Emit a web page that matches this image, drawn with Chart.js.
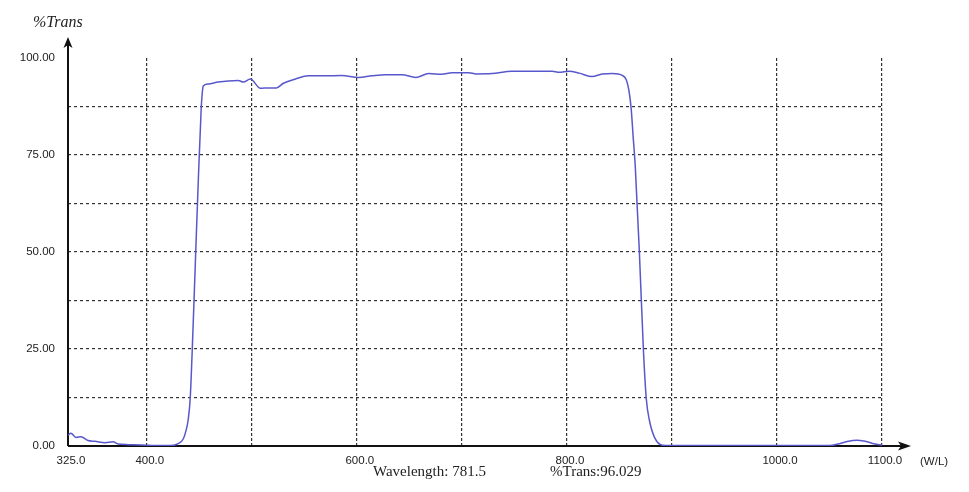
<!DOCTYPE html>
<html>
<head>
<meta charset="utf-8">
<script src="https://cdn.jsdelivr.net/npm/chart.js@4.4.0/dist/chart.umd.min.js"></script>
<style>
  html, body { margin: 0; padding: 0; background: #fff; }
  #wrap { width: 969px; height: 492px; }
</style>
</head>
<body>
<div id="wrap"><canvas id="grafico"></canvas></div>
<script>
// wavelength (nm) and %T
var wavelengths = [325, 327.8, 332.5, 337.3, 344, 350.7, 360.2, 367.9, 372.6, 382.2, 401.3, 410.8, 423.2, 429.9, 434.7, 437.5, 439.4, 441.4, 444, 446.6,
  449, 451.9, 453, 453.8, 458.5, 468, 477.6, 487.2, 491.9, 498.6, 508.2, 515.8, 523.4, 530.1, 541.6, 554, 570.2, 585.5, 601.7, 614.1,
  627.5, 642.8, 656.1, 668.5, 680.9, 690.5, 706.7, 713.4, 728.6, 747.7, 786, 792.6, 802.1, 811.7, 824.1, 833.6, 843.2, 852.8, 856.6, 859.4,
  861.3, 863.0, 865.1, 869, 872.8, 875.6, 878.5, 883.3, 890.9, 900, 950, 1000, 1050, 1058, 1066, 1076, 1084, 1092, 1098, 1100]
var transmission = [2.8, 3.3, 2.2, 2.4, 1.4, 1.2, 0.85, 1.1, 0.5, 0.35, 0.2, 0.1, 0.1, 0.6, 1.8, 4.1, 6.7, 12.5, 30, 50,
  68, 87.5, 91.5, 92.8, 93.3, 93.8, 94.1, 94.2, 93.8, 94.6, 92.2, 92.3, 92.3, 93.5, 94.6, 95.4, 95.4, 95.5, 95.0, 95.4,
  95.7, 95.7, 95.0, 96.0, 95.8, 96.2, 96.2, 95.9, 96.0, 96.6, 96.6, 96.3, 96.6, 96.1, 95.2, 95.9, 96.0, 95.5, 94.3, 91.0,
  86.6, 80, 72, 50, 25, 12.1, 6.7, 2.3, 0.2, 0.1, 0.1, 0.1, 0.1, 0.5, 1.1, 1.5, 1.2, 0.6, 0.3, 0.2]

var xTicks = [325, 400, 500, 600, 700, 800, 900, 1000, 1100]
var xTickLabels = ['325.0', '400.0', '', '600.0', '', '800.0', '', '1000.0', '1100.0']
var yTicks = [0, 12.5, 25, 37.5, 50, 62.5, 75, 87.5, 100]
var yTickLabels = ['0.00', '', '25.00', '', '50.00', '', '75.00', '', '100.00']

var yTitle = '%Trans'
var xUnit = '(W/L)'
var readout = ['Wavelength: 781.5', '%Trans:96.029']

var tickFont = { family: 'Liberation Sans', size: 11.5 }
var gridColor = '#333'

// eixos com seta + textos soltos
var eixos = {
  id: 'eixos',
  beforeDatasetsDraw(chart) {
    var ctx = chart.ctx
    var a = chart.chartArea
    ctx.save()
    ctx.strokeStyle = '#111'
    ctx.fillStyle = '#111'
    ctx.lineWidth = 2
    ctx.beginPath()
    ctx.moveTo(a.left, a.bottom)
    ctx.lineTo(a.left, 42)
    ctx.moveTo(a.left, a.bottom)
    ctx.lineTo(904, a.bottom)
    ctx.stroke()
    // seta y
    ctx.beginPath()
    ctx.moveTo(a.left, 37)
    ctx.lineTo(a.left - 4.5, 48)
    ctx.lineTo(a.left, 45)
    ctx.lineTo(a.left + 4.5, 48)
    ctx.closePath()
    ctx.fill()
    // seta x
    ctx.beginPath()
    ctx.moveTo(911, a.bottom)
    ctx.lineTo(898, a.bottom - 4.5)
    ctx.lineTo(901, a.bottom)
    ctx.lineTo(898, a.bottom + 4.5)
    ctx.closePath()
    ctx.fill()
    ctx.restore()
  },
  afterDraw(chart) {
    var ctx = chart.ctx
    ctx.save()
    ctx.fillStyle = '#222'
    ctx.textBaseline = 'middle'
    ctx.textAlign = 'left'
    ctx.font = 'italic 16px "Liberation Serif"'
    ctx.fillText(yTitle, 33, 23)
    ctx.font = '15px "Liberation Serif"'
    ctx.fillText(readout[0], 373, 472)
    ctx.fillText(readout[1], 550, 472)
    ctx.font = '11.5px "Liberation Sans"'
    ctx.fillText(xUnit, 920, 462)
    ctx.restore()
  }
}

var grafico = new Chart(document.getElementById('grafico'), {
  type: 'line',
  data: {
    datasets: [{
      data: wavelengths.map((w, i) => ({ x: w, y: transmission[i] })),
      borderColor: '#5858cc',
      borderWidth: 1.5,
      pointRadius: 0,
      cubicInterpolationMode: 'monotone',
      fill: false
    }]
  },
  options: {
    responsive: true,
    maintainAspectRatio: false,
    animation: false,
    layout: { padding: { top: 58, right: 87, left: 0, bottom: 0 } },
    plugins: { legend: { display: false }, tooltip: { enabled: false } },
    scales: {
      x: {
        type: 'linear',
        min: 325,
        max: 1100,
        afterBuildTicks: s => { s.ticks = xTicks.map(v => ({ value: v })) },
        afterFit: s => { s.height = 46 },
        border: { display: false, dash: [3, 2] },
        grid: {
          drawTicks: false,
          color: c => c.index === 0 ? 'rgba(0,0,0,0)' : gridColor,
          lineWidth: 1.2
        },
        ticks: {
          autoSkip: false,
          maxRotation: 0,
          padding: 8,
          labelOffset: 3,
          color: '#222',
          font: tickFont,
          callback: (v, i) => xTickLabels[i]
        }
      },
      y: {
        min: 0,
        max: 100,
        afterBuildTicks: s => { s.ticks = yTicks.map(v => ({ value: v })) },
        afterFit: s => { s.width = 68 },
        border: { display: false, dash: [3, 3] },
        grid: {
          drawTicks: false,
          color: c => (c.index === 0 || c.index === yTicks.length - 1) ? 'rgba(0,0,0,0)' : gridColor,
          lineWidth: 1.2
        },
        ticks: {
          padding: 13,
          color: '#222',
          font: tickFont,
          callback: (v, i) => yTickLabels[i]
        }
      }
    }
  },
  plugins: [eixos]
})
</script>
</body>
</html>
